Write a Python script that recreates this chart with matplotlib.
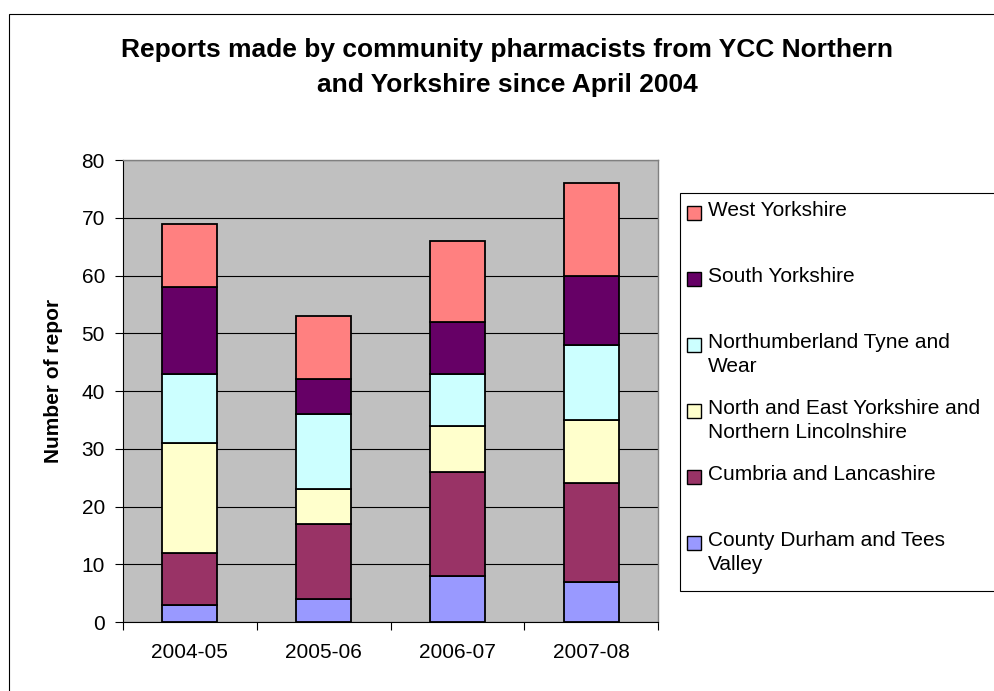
import matplotlib
matplotlib.use("Agg")
import matplotlib.pyplot as plt
import numpy as np
from matplotlib.patches import Rectangle

plt.rcParams["font.family"] = ["Liberation Sans", "DejaVu Sans"]

years = ["2004-05", "2005-06", "2006-07", "2007-08"]

# bottom to top of each stack
regions = [
    "County Durham and Tees\nValley",
    "Cumbria and Lancashire",
    "North and East Yorkshire and\nNorthern Lincolnshire",
    "Northumberland Tyne and\nWear",
    "South Yorkshire",
    "West Yorkshire",
]
durham = [3, 4, 8, 7]
cumbria = [9, 13, 18, 17]
north_east_yorks = [19, 6, 8, 11]
northumberland = [12, 13, 9, 13]
south_yorks = [15, 6, 9, 12]
west_yorks = [11, 11, 14, 16]
series = [durham, cumbria, north_east_yorks, northumberland, south_yorks, west_yorks]

colors = ["#9999FF", "#993366", "#FFFFCC", "#CCFFFF", "#660066", "#FF8080"]

W, H = 995, 691
fig = plt.figure(figsize=(W / 100, H / 100), dpi=100)

# outer chart frame (runs off the right and bottom edges)
fig.patches.append(Rectangle((9 / W, -0.1), 1.2, 1.1 - 14 / H, transform=fig.transFigure,
                             fill=False, edgecolor="black", linewidth=0.8))

ax = fig.add_axes([123 / W, 1 - 622 / H, (658 - 123) / W, (622 - 160) / H])
ax.set_facecolor("#C0C0C0")

x = np.arange(len(years)) + 0.5
bottom = np.zeros(len(years))
for vals, color in zip(series, colors):
    ax.bar(x, vals, width=0.41, bottom=bottom, color=color, edgecolor="black",
           linewidth=1.3, zorder=3)
    bottom += np.array(vals)

ax.set_xlim(0, len(years))
ax.set_ylim(0, 80)
ax.set_yticks(np.arange(0, 81, 10))
ax.yaxis.grid(True, color="black", linewidth=0.8, zorder=1)
ax.set_axisbelow(True)

ax.set_xticks(np.arange(0, len(years) + 1))
ax.set_xticklabels([])
ax.set_xticks(x, minor=True)
ax.set_xticklabels(years, minor=True)
ax.tick_params(axis="x", which="minor", length=0, pad=15, labelsize=15)
ax.tick_params(axis="x", which="major", length=6, width=0.8, direction="out")
ax.tick_params(axis="y", length=6, width=0.8, direction="out", pad=7, labelsize=15)

for side in ["top", "right"]:
    ax.spines[side].set_color("#808080")
    ax.spines[side].set_linewidth(1.0)
for side in ["left", "bottom"]:
    ax.spines[side].set_color("black")
    ax.spines[side].set_linewidth(0.8)

fig.text(54 / W, 1 - 381 / H, "Number of repor", rotation=90, ha="center", va="center",
         fontsize=15, fontweight="bold")

title_lines = ["Reports made by community pharmacists from YCC Northern",
               "and Yorkshire since April 2004"]
for line, base in zip(title_lines, [57, 92]):
    fig.text(507 / W, 1 - base / H, line, ha="center", va="baseline",
             fontsize=19, fontweight="bold")

# legend box
fig.patches.append(Rectangle((680 / W, 1 - 591 / H), 0.5, (591 - 193) / H,
                             transform=fig.transFigure, facecolor="white",
                             edgecolor="black", linewidth=0.8))
for i, (label, color) in enumerate(zip(regions[::-1], colors[::-1])):
    yc = 213 + i * 66
    fig.patches.append(Rectangle((687 / W, 1 - (yc + 7) / H), 14 / W, 14 / H,
                                 transform=fig.transFigure, facecolor=color,
                                 edgecolor="black", linewidth=1.0))
    fig.text(708 / W, 1 - (yc - 12) / H, label, ha="left", va="top", fontsize=15,
             linespacing=1.3)

fig.savefig("out.png", dpi=100, facecolor="white")
